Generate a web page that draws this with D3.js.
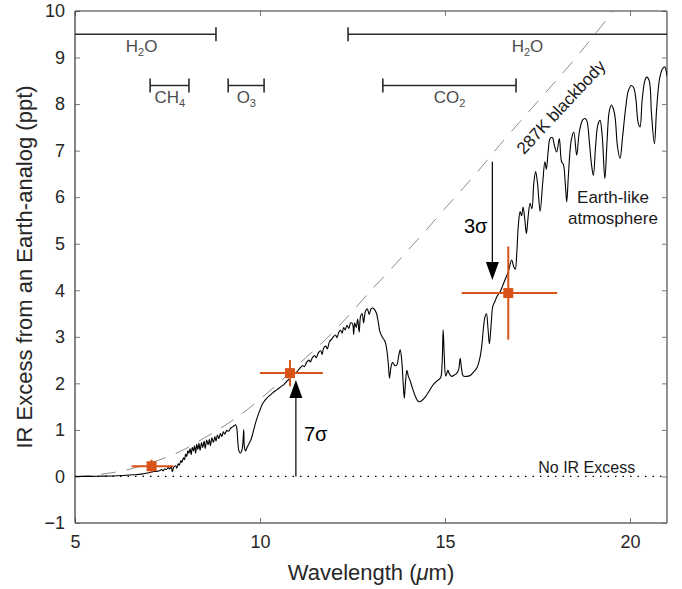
<!DOCTYPE html>
<html>
<head>
<meta charset="utf-8">
<script src="https://cdn.jsdelivr.net/npm/d3@7"></script>
<style>
  html, body { margin: 0; padding: 0; background: #fff; }
  svg { display: block; }
</style>
</head>
<body>
<svg id="chart" width="682" height="589"></svg>
<script>
// ---------------- data ----------------
const xTicks = [5, 10, 15, 20];
const yTicks = [-1, 0, 1, 2, 3, 4, 5, 6, 7, 8, 9, 10];

// Modelled Earth-like spectrum: [wavelength (um), IR excess (ppt)]
const earthSpectrum = [
  [5.0,0.0],[5.3,0.0],[5.6,0.005],[6.0,0.01],[6.3,0.02],[6.6,0.035],[6.8,0.05],[7.0,0.08],
  [7.1,0.1],[7.2,0.11],[7.3,0.13],[7.34,0.15],[7.38,0.12],[7.42,0.16],[7.47,0.15],[7.52,0.19],
  [7.56,0.16],[7.6,0.22],[7.63,0.1],[7.67,0.2],[7.72,0.23],[7.75,0.18],[7.79,0.27],[7.82,0.24],
  [7.86,0.34],[7.89,0.3],[7.93,0.4],[7.96,0.36],[7.99,0.48],[8.02,0.43],[8.05,0.55],[8.08,0.5],
  [8.11,0.6],[8.14,0.47],[8.17,0.62],[8.2,0.55],[8.23,0.66],[8.26,0.5],[8.29,0.69],[8.32,0.58],
  [8.35,0.71],[8.38,0.56],[8.42,0.73],[8.45,0.62],[8.49,0.76],[8.52,0.6],[8.56,0.78],[8.6,0.68],
  [8.63,0.8],[8.66,0.66],[8.7,0.83],[8.74,0.73],[8.78,0.86],[8.81,0.76],[8.85,0.89],[8.89,0.81],
  [8.93,0.92],[8.97,0.86],[9.01,0.96],[9.05,0.91],[9.1,0.99],[9.15,0.97],[9.2,1.03],[9.25,1.06],
  [9.3,1.09],[9.34,1.11],[9.37,1.05],[9.4,0.75],[9.43,0.55],[9.47,0.5],[9.51,0.56],[9.54,0.75],
  [9.56,1.0],[9.58,0.62],[9.61,0.55],[9.65,0.62],[9.7,0.7],[9.76,0.8],[9.82,0.97],[9.88,1.15],
  [9.94,1.3],[10.0,1.43],[10.05,1.53],[10.1,1.6],[10.18,1.68],[10.25,1.73],[10.35,1.8],
  [10.45,1.86],[10.55,1.92],[10.65,1.98],[10.72,2.04],[10.8,2.1],[10.9,2.18],[11.0,2.25],
  [11.08,2.33],[11.15,2.38],[11.2,2.36],[11.26,2.45],[11.32,2.5],[11.36,2.46],[11.42,2.56],
  [11.48,2.6],[11.52,2.55],[11.58,2.66],[11.64,2.7],[11.68,2.62],[11.72,2.76],[11.78,2.8],
  [11.82,2.74],[11.88,2.9],[11.94,2.95],[11.98,3.0],[12.04,3.04],[12.08,2.98],[12.13,3.1],
  [12.18,3.14],[12.22,3.08],[12.26,3.2],[12.3,3.15],[12.35,3.25],[12.4,3.18],[12.45,3.3],
  [12.5,3.28],[12.53,3.05],[12.56,3.3],[12.6,3.2],[12.64,3.38],[12.68,3.1],[12.72,3.45],
  [12.76,3.5],[12.8,3.3],[12.85,3.55],[12.9,3.6],[12.95,3.48],[13.0,3.6],[13.05,3.62],
  [13.1,3.58],[13.15,3.5],[13.2,3.3],[13.24,3.11],[13.3,3.0],[13.38,2.9],[13.43,2.7],
  [13.47,2.4],[13.5,2.11],[13.54,2.35],[13.58,2.45],[13.65,2.38],[13.7,2.4],[13.75,2.6],
  [13.79,2.72],[13.83,2.5],[13.87,2.0],[13.9,1.68],[13.93,2.0],[13.97,2.28],[14.01,2.15],
  [14.06,2.05],[14.12,1.9],[14.2,1.72],[14.28,1.61],[14.36,1.62],[14.46,1.7],[14.56,1.82],
  [14.68,1.97],[14.78,2.05],[14.88,2.12],[14.92,2.4],[14.95,3.15],[14.98,2.6],[15.02,2.16],
  [15.08,2.28],[15.12,2.2],[15.18,2.15],[15.25,2.18],[15.32,2.22],[15.37,2.3],[15.41,2.54],
  [15.45,2.3],[15.49,2.16],[15.58,2.15],[15.68,2.17],[15.78,2.25],[15.86,2.33],[15.93,2.5],
  [15.99,2.78],[16.04,3.2],[16.08,3.43],[16.12,3.5],[16.16,3.2],[16.2,2.85],[16.25,3.3],
  [16.29,3.65],[16.35,3.76],[16.4,3.86],[16.49,3.97],[16.56,4.1],[16.62,4.22],[16.71,4.4],
  [16.8,4.65],[16.86,4.5],[16.9,4.45],[16.94,4.8],[16.98,5.37],[17.03,5.69],[17.07,5.6],
  [17.11,5.79],[17.16,5.5],[17.2,5.22],[17.25,5.6],[17.3,5.87],[17.35,5.75],[17.4,6.3],
  [17.45,6.55],[17.5,6.3],[17.57,5.7],[17.64,6.3],[17.7,6.76],[17.74,6.6],[17.79,7.0],
  [17.84,7.26],[17.9,7.28],[17.96,7.1],[18.02,6.97],[18.09,7.26],[18.15,6.76],[18.2,6.7],
  [18.25,6.3],[18.29,5.9],[18.33,6.4],[18.38,7.0],[18.42,7.26],[18.48,7.4],[18.56,6.9],
  [18.63,7.4],[18.72,7.66],[18.78,7.69],[18.83,7.65],[18.9,7.2],[18.96,6.7],[19.01,6.47],
  [19.07,7.1],[19.13,7.55],[19.19,7.65],[19.25,7.3],[19.32,6.4],[19.38,7.2],[19.44,7.85],
  [19.5,7.98],[19.55,7.9],[19.6,7.7],[19.66,7.1],[19.73,6.83],[19.8,7.3],[19.88,7.9],
  [19.96,8.3],[20.04,8.4],[20.1,8.35],[20.16,8.1],[20.22,7.6],[20.27,7.51],[20.33,8.1],
  [20.4,8.5],[20.45,8.58],[20.52,8.5],[20.58,7.8],[20.66,7.15],[20.72,7.9],[20.8,8.55],
  [20.88,8.76],[20.94,8.8],[21.0,8.6]
];

// 287 K blackbody curve
const blackbody = [
  [5.0,0.0],[5.5,0.03],[6.0,0.08],[6.5,0.16],[7.0,0.28],[7.5,0.42],[8.0,0.6],[8.5,0.83],
  [9.0,1.07],[9.5,1.34],[10.0,1.66],[10.5,2.0],[11.0,2.38],[11.5,2.74],[12.0,3.12],
  [12.5,3.55],[13.0,4.0],[13.5,4.42],[14.0,4.86],[14.5,5.3],[15.0,5.76],[15.5,6.2],
  [16.0,6.66],[16.5,7.14],[17.0,7.6],[17.5,8.05],[18.0,8.5],[18.5,8.96],[19.0,9.45],[19.55,10.0]
];

// Simulated measurements with error bars
const measWavelength = [7.07, 10.81, 16.71];
const measExcess     = [0.22, 2.22, 3.94];
const measXLow       = [6.53, 10.0, 15.45];
const measXHigh      = [7.66, 11.7, 18.03];
const measYErr       = [0.14, 0.28, 1.0];

// Absorption bands
const bandNames  = [["H","2","O"], ["CH","4",""], ["O","3",""], ["CO","2",""], ["H","2","O"]];
const bandStart  = [5.0, 7.03, 9.14, 13.32, 12.38];
const bandEnd    = [8.81, 8.08, 10.11, 16.92, 21.0];
const bandLevel  = [9.5, 8.4, 8.4, 8.4, 9.5];
const bandLabelAt = [6.8, 7.56, 9.63, 15.12, 17.23];

// Significance arrows
const arrowX     = [10.97, 16.28];
const arrowFrom  = [0.0, 6.76];
const arrowTo    = [2.07, 4.22];
const arrowLabel = ["7σ", "3σ"];

// ---------------- layout ----------------
const svg = d3.select("#chart");
const W = 682, H = 589;
const x = d3.scaleLinear().domain([5, 21]).range([75, 667]);
const y = d3.scaleLinear().domain([-1, 10]).range([523, 11]);
const orange = "#D95319";
const axisFont = "'Liberation Sans', Arial, Helvetica, sans-serif";

svg.append("rect").attr("width", W).attr("height", H).attr("fill", "#fff");

svg.append("defs").append("clipPath").attr("id", "plotclip")
  .append("rect").attr("x", x(5)).attr("y", y(10)).attr("width", x(21) - x(5)).attr("height", y(-1) - y(10));

// ---------------- axes ----------------
const gx = svg.append("g").attr("transform", `translate(0,${y(-1)})`)
  .call(d3.axisBottom(x).tickValues(xTicks).tickSizeInner(-5).tickSizeOuter(0).tickPadding(12));
const gxTop = svg.append("g").attr("transform", `translate(0,${y(10)})`)
  .call(d3.axisTop(x).tickValues(xTicks).tickSizeInner(-5).tickSizeOuter(0).tickFormat(""));
const gy = svg.append("g").attr("transform", `translate(${x(5)},0)`)
  .call(d3.axisLeft(y).tickValues(yTicks).tickSizeInner(-5).tickSizeOuter(0).tickPadding(10));
const gyR = svg.append("g").attr("transform", `translate(${x(21)},0)`)
  .call(d3.axisRight(y).tickValues(yTicks).tickSizeInner(-5).tickSizeOuter(0).tickFormat(""));

[gx, gxTop, gy, gyR].forEach(g => {
  g.select(".domain").remove();
  g.selectAll(".tick line").attr("stroke", "#7a7a7a").attr("stroke-width", 1);
  g.selectAll(".tick text").attr("fill", "#262626")
    .style("font-family", axisFont).style("font-size", "18px");
});

// box
svg.append("line").attr("x1", x(5)).attr("x2", x(21)).attr("y1", y(10)).attr("y2", y(10))
  .attr("stroke", "#333").attr("stroke-width", 1.2);
svg.append("line").attr("x1", x(5)).attr("x2", x(5)).attr("y1", y(10)).attr("y2", y(-1))
  .attr("stroke", "#333").attr("stroke-width", 1.2);
svg.append("line").attr("x1", x(5)).attr("x2", x(21)).attr("y1", y(-1)).attr("y2", y(-1))
  .attr("stroke", "#666").attr("stroke-width", 1.5);
svg.append("line").attr("x1", x(21)).attr("x2", x(21)).attr("y1", y(10)).attr("y2", y(-1))
  .attr("stroke", "#777").attr("stroke-width", 1.6);

// axis titles
svg.append("text")
  .attr("x", (x(5) + x(21)) / 2).attr("y", 580)
  .attr("text-anchor", "middle").attr("fill", "#262626")
  .style("font-family", axisFont).style("font-size", "22px")
  .call(t => {
    t.append("tspan").text("Wavelength (");
    t.append("tspan").text("μ").style("font-style", "italic");
    t.append("tspan").text("m)");
  });

svg.append("text")
  .attr("transform", `translate(32,${(y(10) + y(-1)) / 2}) rotate(-90)`)
  .attr("text-anchor", "middle").attr("fill", "#262626")
  .style("font-family", axisFont).style("font-size", "22px")
  .text("IR Excess from an Earth-analog (ppt)");

// ---------------- plot content ----------------
const plot = svg.append("g").attr("clip-path", "url(#plotclip)");

// zero line (dotted)
plot.append("line")
  .attr("x1", x(5)).attr("x2", x(21)).attr("y1", y(0)).attr("y2", y(0))
  .attr("stroke", "#000").attr("stroke-width", 1.3).attr("stroke-dasharray", "1.5,6");

// blackbody
plot.append("path")
  .datum(blackbody)
  .attr("d", d3.line().x(d => x(d[0])).y(d => y(d[1])).curve(d3.curveMonotoneX))
  .attr("fill", "none").attr("stroke", "#8c8c8c").attr("stroke-width", 1)
  .attr("stroke-dasharray", "15,11");

// spectrum
plot.append("path")
  .datum(earthSpectrum)
  .attr("d", d3.line().x(d => x(d[0])).y(d => y(d[1])).curve(d3.curveCatmullRom.alpha(0.5)))
  .attr("fill", "none").attr("stroke", "#000").attr("stroke-width", 1.1)
  .attr("stroke-linejoin", "round");

// bands
bandNames.forEach((nm, i) => {
  const g = plot.append("g");
  const yy = y(bandLevel[i]);
  g.append("line").attr("x1", x(bandStart[i])).attr("x2", x(bandEnd[i]))
    .attr("y1", yy).attr("y2", yy).attr("stroke", "#2b2b2b").attr("stroke-width", 1.6);
  if (bandStart[i] > 5) g.append("line").attr("x1", x(bandStart[i])).attr("x2", x(bandStart[i]))
    .attr("y1", yy - 7).attr("y2", yy + 7).attr("stroke", "#2b2b2b").attr("stroke-width", 1.6);
  if (bandEnd[i] < 21) g.append("line").attr("x1", x(bandEnd[i])).attr("x2", x(bandEnd[i]))
    .attr("y1", yy - 7).attr("y2", yy + 7).attr("stroke", "#2b2b2b").attr("stroke-width", 1.6);
});
bandNames.forEach((nm, i) => {
  const t = svg.append("text")
    .attr("x", x(bandLabelAt[i])).attr("y", y(bandLevel[i]) + 18)
    .attr("text-anchor", "middle").attr("fill", "#4d4d4d")
    .style("font-family", axisFont).style("font-size", "17px");
  t.append("tspan").text(nm[0]);
  t.append("tspan").text(nm[1]).attr("dy", 4).style("font-size", "11px");
  if (nm[2]) t.append("tspan").text(nm[2]).attr("dy", -4);
});

// measurement error bars
measWavelength.forEach((w, i) => {
  const g = svg.append("g");
  g.append("line").attr("x1", x(measXLow[i])).attr("x2", x(measXHigh[i]))
    .attr("y1", y(measExcess[i])).attr("y2", y(measExcess[i]))
    .attr("stroke", orange).attr("stroke-width", 2);
  g.append("line").attr("x1", x(w)).attr("x2", x(w))
    .attr("y1", y(measExcess[i] - measYErr[i])).attr("y2", y(measExcess[i] + measYErr[i]))
    .attr("stroke", orange).attr("stroke-width", 2);
  g.append("rect").attr("x", x(w) - 5).attr("y", y(measExcess[i]) - 5)
    .attr("width", 10).attr("height", 10).attr("fill", orange);
});

// arrows
arrowX.forEach((ax, i) => {
  const x0 = x(ax), y0 = y(arrowFrom[i]), y1 = y(arrowTo[i]);
  const dir = y1 < y0 ? 1 : -1; // 1 = pointing up
  const headLen = 18, headW = 6.5;
  const baseY = y1 + dir * headLen;
  svg.append("line").attr("x1", x0).attr("x2", x0).attr("y1", y0).attr("y2", baseY)
    .attr("stroke", "#000").attr("stroke-width", 1.2);
  svg.append("path")
    .attr("d", `M${x0},${y1}L${x0 - headW},${baseY}L${x0 + headW},${baseY}Z`)
    .attr("fill", "#000");
});
svg.append("text").attr("x", x(10.97) + 8).attr("y", y(0.77))
  .attr("fill", "#000").style("font-family", axisFont).style("font-size", "20px").text(arrowLabel[0]);
svg.append("text").attr("x", x(16.28) - 5).attr("y", y(5.22))
  .attr("text-anchor", "end")
  .attr("fill", "#000").style("font-family", axisFont).style("font-size", "20px").text(arrowLabel[1]);

// annotations
svg.append("text")
  .attr("transform", `translate(${x(18.14)},${y(7.93)}) rotate(-47)`)
  .attr("text-anchor", "middle").attr("dominant-baseline", "central")
  .attr("fill", "#1a1a1a").style("font-family", axisFont).style("font-size", "17px")
  .text("287K blackbody");

svg.append("text").attr("x", x(19.54)).attr("y", y(5.88))
  .attr("text-anchor", "middle").attr("fill", "#1a1a1a")
  .style("font-family", axisFont).style("font-size", "17px").text("Earth-like");
svg.append("text").attr("x", x(19.54)).attr("y", y(5.43))
  .attr("text-anchor", "middle").attr("fill", "#1a1a1a")
  .style("font-family", axisFont).style("font-size", "17px").text("atmosphere");

svg.append("text").attr("x", x(20.14)).attr("y", y(0.08))
  .attr("text-anchor", "end").attr("fill", "#1a1a1a")
  .style("font-family", axisFont).style("font-size", "16px").text("No IR Excess");
</script>
</body>
</html>
